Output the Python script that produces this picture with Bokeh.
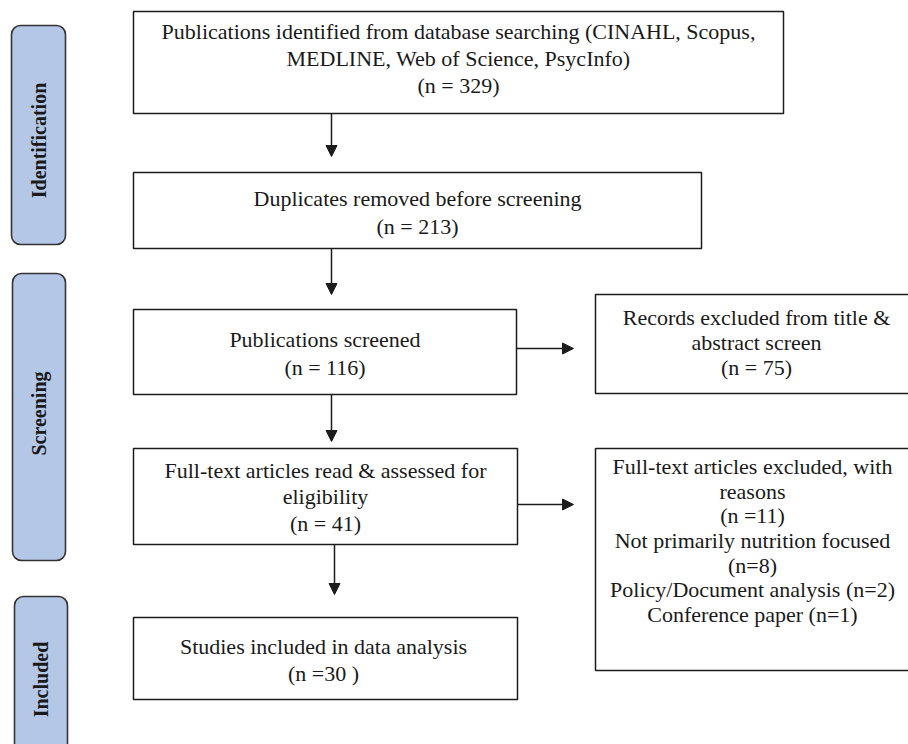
import math
from bokeh.plotting import figure
from bokeh.models import Range1d, Arrow, NormalHead, BoxAnnotation
from bokeh.core.properties import value
from bokeh.embed import file_html
from bokeh.resources import INLINE

# ---------------- data ----------------
stages = ["Identification", "Screening", "Included"]

box_titles = [
    ["Publications identified from database searching (CINAHL, Scopus,", "MEDLINE, Web of Science, PsycInfo)"],
    ["Duplicates removed before screening"],
    ["Publications screened"],
    ["Records excluded from title &", "abstract screen"],
    ["Full-text articles read & assessed for", "eligibility"],
    ["Full-text articles excluded, with", "reasons"],
    ["Studies included in data analysis"],
]
counts = [329, 213, 116, 75, 41, 11, 30]
count_fmt = ["(n = {})", "(n = {})", "(n = {})", "(n = {})", "(n = {})", "(n ={})", "(n ={} )"]

reasons = ["Not primarily nutrition focused", "Policy/Document analysis", "Conference paper"]
reason_counts = [8, 2, 1]

# ---------------- layout (page pixel coordinates) ----------------
W, H = 908, 744
# left, right, top, bottom, text-x-centre, text-y-centre, line spacing
box_geom = [
    (133, 783, 11, 113, 458, 58, 27),
    (133, 701, 172, 248, 417, 212, 28),
    (133, 516, 309, 394, 324.5, 353, 28),
    (595, 930, 294, 393, 756, 342, 25),
    (133, 517, 448, 544, 325, 496, 26.5),
    (595, 930, 448, 670, 752, 540, 24.7),
    (133, 517, 617, 699, 323, 659, 27),
]
stage_geom = [(11, 65, 25, 244), (12, 65, 273, 560), (14, 67, 596, 790)]
stage_text_y = [140, 413, 679]

arrows_geom = [
    (331, 113, 331, 156),
    (331, 248, 331, 294),
    (331, 394, 331, 441),
    (334, 544, 334, 594),
    (516, 348, 573, 348),
    (517, 504, 573, 504),
]

LINE = "#1c1c1c"
FONT = value("Liberation Serif")

p = figure(width=W, height=H, output_backend="svg", toolbar_location=None,
           x_range=Range1d(0, W), y_range=Range1d(H, 0),
           min_border=0, tools="")
p.axis.visible = False
p.grid.visible = False
p.outline_line_color = None
p.background_fill_color = "white"
p.border_fill_color = "white"

# stage side labels
for (l, r, t, b), name, ty in zip(stage_geom, stages, stage_text_y):
    p.add_layout(BoxAnnotation(left=l, right=r, top=t, bottom=b,
                               fill_color="#b4c7e7", fill_alpha=1.0,
                               line_color="#333333", line_alpha=1.0, line_width=1.6,
                               border_radius=9, level="underlay"))
    p.text(x=[(l + r) / 2], y=[ty], text=[name], angle=math.pi / 2,
           text_font=FONT, text_font_style="bold", text_font_size="20px",
           text_align="center", text_baseline="middle", text_color="#1a1a1a")

# flow boxes
p.quad(left=[g[0] for g in box_geom], right=[g[1] for g in box_geom],
       top=[g[2] for g in box_geom], bottom=[g[3] for g in box_geom],
       fill_color="white", line_color=LINE, line_width=1.5)

# box texts
xs, ys, txt = [], [], []
for i, (g, title) in enumerate(zip(box_geom, box_titles)):
    lines = list(title) + [count_fmt[i].format(counts[i])]
    if i == 5:
        lines.append(f"{reasons[0]}")
        lines.append(f"(n={reason_counts[0]})")
        lines.append(f"{reasons[1]} (n={reason_counts[1]})")
        lines.append(f"{reasons[2]} (n={reason_counts[2]})")
    l, r, t, b, cx, cy, sp = g
    n = len(lines)
    for k, s in enumerate(lines):
        xs.append(cx)
        ys.append(cy + (k - (n - 1) / 2) * sp)
        txt.append(s)
p.text(x=xs, y=ys, text=txt, text_font=FONT, text_font_size="22px",
       text_align="center", text_baseline="middle", text_color="#1a1a1a")

# arrows
for (x0, y0, x1, y1) in arrows_geom:
    p.add_layout(Arrow(x_start=x0, y_start=y0, x_end=x1, y_end=y1,
                       line_color=LINE, line_width=1.5,
                       end=NormalHead(size=11, fill_color=LINE, line_color=LINE, line_width=1)))

open("out.html", "w").write(file_html(p, INLINE))
